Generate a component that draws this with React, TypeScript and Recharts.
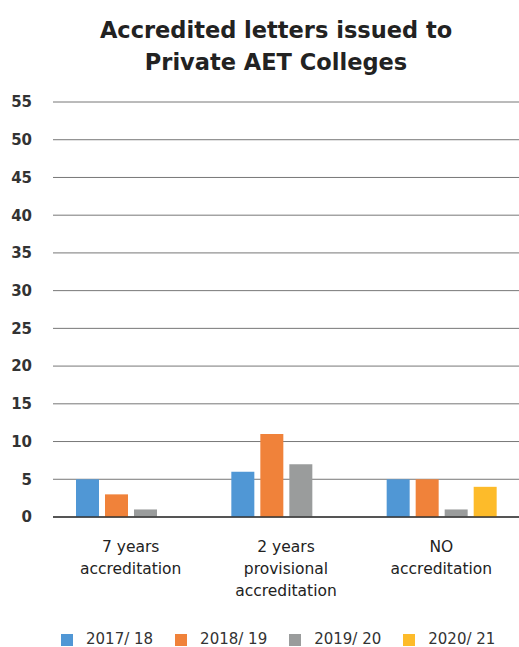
import { Bar, BarChart, CartesianGrid, XAxis, YAxis } from 'recharts'

const categories = ['7 years\naccreditation', '2 years\nprovisional\naccreditation', 'NO\naccreditation']
const y1718 = [5, 6, 5]
const y1819 = [3, 11, 5]
const y1920 = [1, 7, 1]
const y2021 = [null, null, 4]
const yTicks = [0, 5, 10, 15, 20, 25, 30, 35, 40, 45, 50, 55]

const series = [
  { key: 'y1718', name: '2017/ 18', color: '#5097D5' },
  { key: 'y1819', name: '2018/ 19', color: '#F0823A' },
  { key: 'y1920', name: '2019/ 20', color: '#9A9C9C' },
  { key: 'y2021', name: '2020/ 21', color: '#FDBB2A' },
]

const data = categories.map((label, i) => ({
  label,
  y1718: y1718[i],
  y1819: y1819[i],
  y1920: y1920[i],
  y2021: y2021[i],
}))

const FONT = '"DejaVu Sans", sans-serif'

// multi-line category label under each group
function CategoryTick(props: any) {
  const { x, y, payload } = props
  const lines = String(payload.value).split('\n')
  return (
    <text x={x} y={y} textAnchor="middle" fill="#222" fontSize={15.5} fontFamily={FONT}>
      {lines.map((line, i) => (
        <tspan key={i} x={x} dy={i === 0 ? 27 : 22}>
          {line}
        </tspan>
      ))}
    </text>
  )
}

export default function App() {
  return (
    <div style={{ position: 'absolute', left: 0, top: 0, width: 519, height: 647, background: '#fff' }}>
      <div
        style={{
          position: 'absolute',
          left: 0,
          top: 14,
          width: 552,
          textAlign: 'center',
          fontFamily: FONT,
          fontWeight: 'bold',
          fontSize: 22.5,
          lineHeight: '32px',
          color: '#222',
        }}
      >
        Accredited letters issued to
        <br />
        Private AET Colleges
      </div>

      <BarChart
        width={519}
        height={647}
        data={data}
        margin={{ top: 102, right: 0, bottom: 100, left: 0 }}
        barSize={23}
        barGap={6}
      >
        <CartesianGrid vertical={false} stroke="#777" />
        <XAxis
          dataKey="label"
          tick={<CategoryTick />}
          tickLine={false}
          axisLine={{ stroke: '#333', strokeWidth: 1.5 }}
          interval={0}
        />
        <YAxis
          width={53}
          domain={[0, 55]}
          ticks={yTicks}
          tickLine={false}
          axisLine={false}
          tickSize={0}
          tickMargin={21}
          tick={{ fill: '#333', fontSize: 15, fontWeight: 'bold', fontFamily: FONT }}
        />
        {series.map((s) => (
          <Bar key={s.key} dataKey={s.key} name={s.name} fill={s.color} isAnimationActive={false} />
        ))}
      </BarChart>

      <div
        style={{
          position: 'absolute',
          left: 61,
          top: 632,
          height: 15,
          display: 'flex',
          alignItems: 'center',
          fontFamily: FONT,
          fontSize: 15,
          lineHeight: '15px',
          color: '#333',
        }}
      >
        {series.map((s) => (
          <div key={s.key} style={{ display: 'flex', alignItems: 'center', marginRight: 22 }}>
            <span style={{ width: 12, height: 12, background: s.color, marginRight: 13 }} />
            {s.name}
          </div>
        ))}
      </div>
    </div>
  )
}
